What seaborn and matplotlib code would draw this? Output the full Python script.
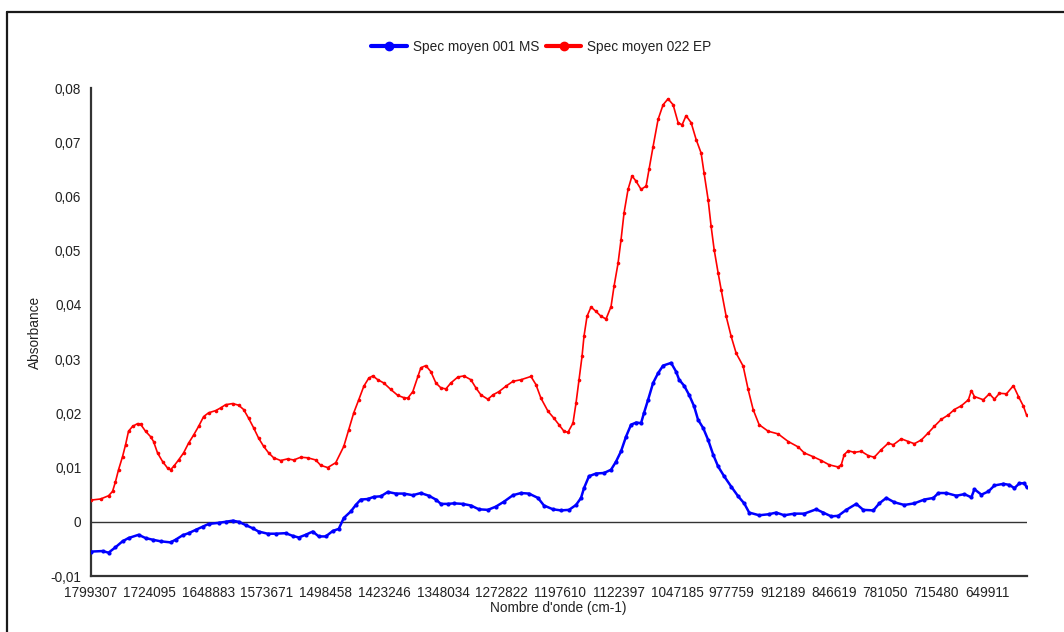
import numpy as np
import pandas as pd
import matplotlib
matplotlib.use("Agg")
import matplotlib.pyplot as plt
import seaborn as sns
from matplotlib.lines import Line2D
from matplotlib.ticker import FixedLocator

# ---------------- data ----------------
series_names = ["Spec moyen 001 MS", "Spec moyen 022 EP"]
series_colors = ["#0000FF", "#FF0000"]

wn_ms = [1799.3, 1784.5, 1776.8, 1767.9, 1758.9, 1751.2, 1738.3, 1729.4, 1720.4, 1710.1,
         1697.3, 1690.8, 1681.9, 1674.2, 1665.2, 1656.2, 1648.5, 1635.7, 1626.7, 1617.7,
         1610.0, 1601.0, 1592.0, 1584.3, 1572.8, 1562.5, 1549.7, 1540.7, 1533.0, 1524.0,
         1515.0, 1507.3, 1498.3, 1489.3, 1481.6, 1475.2, 1466.2, 1459.8, 1453.4, 1444.4,
         1436.7, 1427.7, 1418.7, 1408.5, 1398.2, 1386.7, 1376.4, 1366.1, 1357.1, 1350.7,
         1341.7, 1334.0, 1322.5, 1312.2, 1301.9, 1290.4, 1280.1, 1269.9, 1258.3, 1248.0,
         1237.8, 1226.2, 1218.5, 1207.0, 1196.7, 1186.4, 1177.4, 1171.0, 1167.2, 1160.8,
         1151.8, 1141.5, 1132.5, 1126.1, 1119.7, 1113.3, 1106.9, 1100.4, 1094.0, 1090.2,
         1085.0, 1078.6, 1072.2, 1065.8, 1055.5, 1049.1, 1045.2, 1038.8, 1032.4, 1026.0,
         1020.9, 1014.4, 1008.0, 1001.6, 995.2, 987.5, 978.5, 969.5, 961.8, 955.4,
         942.6, 929.7, 920.7, 910.5, 897.6, 884.8, 869.4, 860.4, 850.2, 841.2,
         830.9, 818.1, 809.1, 796.2, 788.5, 779.6, 769.3, 756.5, 743.6, 730.8,
         719.2, 712.8, 702.6, 689.7, 679.5, 670.5, 666.6, 657.6, 648.6, 640.9,
         629.4, 621.7, 615.3, 608.9, 602.4, 599.8]
abs_ms = [-0.0055, -0.0054, -0.0057, -0.0047, -0.0036, -0.0030, -0.0024, -0.0030, -0.0033, -0.0036,
          -0.0038, -0.0033, -0.0025, -0.0021, -0.0015, -0.0009, -0.0004, -0.0002, 0.0000, 0.0002,
          0.0000, -0.0006, -0.0012, -0.0018, -0.0022, -0.0022, -0.0021, -0.0026, -0.0029, -0.0024,
          -0.0018, -0.0027, -0.0027, -0.0017, -0.0013, 0.0007, 0.0019, 0.0031, 0.0041, 0.0042,
          0.0046, 0.0047, 0.0055, 0.0052, 0.0052, 0.0049, 0.0053, 0.0048, 0.0041, 0.0033,
          0.0033, 0.0034, 0.0033, 0.0030, 0.0023, 0.0022, 0.0028, 0.0037, 0.0049, 0.0053,
          0.0052, 0.0044, 0.0030, 0.0023, 0.0021, 0.0022, 0.0031, 0.0044, 0.0062, 0.0084,
          0.0089, 0.0090, 0.0096, 0.0111, 0.0130, 0.0157, 0.0179, 0.0183, 0.0182, 0.0201,
          0.0225, 0.0256, 0.0274, 0.0288, 0.0293, 0.0277, 0.0262, 0.0251, 0.0234, 0.0213,
          0.0188, 0.0173, 0.0151, 0.0124, 0.0102, 0.0084, 0.0065, 0.0047, 0.0034, 0.0017,
          0.0012, 0.0014, 0.0017, 0.0012, 0.0015, 0.0015, 0.0023, 0.0017, 0.0010, 0.0011,
          0.0022, 0.0033, 0.0022, 0.0021, 0.0034, 0.0044, 0.0036, 0.0031, 0.0034, 0.0041,
          0.0044, 0.0053, 0.0053, 0.0048, 0.0051, 0.0045, 0.0060, 0.0050, 0.0056, 0.0067,
          0.0070, 0.0068, 0.0062, 0.0071, 0.0071, 0.0064]

wn_ep = [1799.3, 1787.1, 1776.8, 1771.7, 1767.9, 1764.0, 1758.9, 1755.0, 1751.2, 1746.0,
         1739.6, 1735.8, 1729.4, 1722.9, 1719.1, 1714.0, 1707.5, 1701.1, 1697.3, 1693.4,
         1687.0, 1680.6, 1674.2, 1667.7, 1661.3, 1654.9, 1648.5, 1639.5, 1633.1, 1626.7,
         1617.7, 1610.0, 1603.6, 1597.2, 1590.7, 1584.3, 1577.9, 1571.5, 1565.1, 1556.1,
         1547.1, 1539.4, 1530.4, 1521.4, 1511.2, 1504.7, 1495.8, 1485.5, 1475.2, 1468.8,
         1462.4, 1456.0, 1449.5, 1443.1, 1438.0, 1431.6, 1423.9, 1414.9, 1405.9, 1398.2,
         1393.1, 1386.7, 1380.2, 1376.4, 1370.0, 1363.6, 1357.1, 1350.7, 1344.3, 1337.9,
         1328.9, 1321.2, 1312.2, 1305.8, 1299.4, 1290.4, 1284.0, 1276.3, 1267.3, 1258.3,
         1248.0, 1235.2, 1228.8, 1222.4, 1213.4, 1205.7, 1199.3, 1192.9, 1187.7, 1181.3,
         1177.4, 1173.6, 1169.7, 1167.2, 1163.3, 1158.2, 1151.8, 1145.4, 1138.9, 1132.5,
         1128.7, 1123.5, 1119.7, 1115.8, 1110.7, 1105.6, 1100.4, 1094.0, 1087.6, 1083.8,
         1078.6, 1072.2, 1065.8, 1059.4, 1052.9, 1046.5, 1041.4, 1036.3, 1029.8, 1023.4,
         1017.0, 1013.2, 1008.0, 1004.2, 1000.3, 995.2, 991.3, 984.9, 978.5, 972.1,
         963.1, 956.7, 950.3, 942.6, 931.0, 918.2, 905.3, 892.5, 884.8, 873.3,
         863.0, 852.7, 841.2, 837.3, 833.5, 828.3, 820.6, 811.7, 802.7, 795.0,
         786.0, 777.0, 770.6, 760.3, 751.3, 743.6, 734.6, 725.7, 718.0, 709.0,
         700.0, 692.3, 683.3, 674.3, 670.5, 666.6, 655.1, 647.4, 640.9, 634.5,
         625.5, 616.6, 610.1, 603.7, 599.8]
abs_ep = [0.0040, 0.0042, 0.0048, 0.0056, 0.0074, 0.0096, 0.0120, 0.0142, 0.0167, 0.0176,
          0.0181, 0.0180, 0.0167, 0.0157, 0.0148, 0.0127, 0.0111, 0.0099, 0.0096, 0.0102,
          0.0114, 0.0127, 0.0145, 0.0160, 0.0176, 0.0194, 0.0201, 0.0205, 0.0210, 0.0216,
          0.0218, 0.0215, 0.0207, 0.0191, 0.0173, 0.0154, 0.0139, 0.0127, 0.0118, 0.0113,
          0.0116, 0.0114, 0.0119, 0.0118, 0.0114, 0.0104, 0.0100, 0.0109, 0.0139, 0.0170,
          0.0201, 0.0225, 0.0250, 0.0265, 0.0269, 0.0262, 0.0256, 0.0244, 0.0233, 0.0229,
          0.0228, 0.0240, 0.0268, 0.0284, 0.0288, 0.0277, 0.0256, 0.0247, 0.0245, 0.0256,
          0.0267, 0.0269, 0.0262, 0.0247, 0.0234, 0.0226, 0.0234, 0.0240, 0.0250, 0.0259,
          0.0262, 0.0268, 0.0253, 0.0228, 0.0204, 0.0191, 0.0179, 0.0167, 0.0165, 0.0182,
          0.0219, 0.0262, 0.0305, 0.0342, 0.0379, 0.0396, 0.0388, 0.0379, 0.0374, 0.0397,
          0.0434, 0.0477, 0.0520, 0.0570, 0.0613, 0.0638, 0.0628, 0.0613, 0.0619, 0.0650,
          0.0692, 0.0742, 0.0769, 0.0780, 0.0769, 0.0736, 0.0732, 0.0749, 0.0736, 0.0705,
          0.0680, 0.0643, 0.0594, 0.0545, 0.0502, 0.0459, 0.0428, 0.0379, 0.0342, 0.0311,
          0.0287, 0.0244, 0.0207, 0.0179, 0.0167, 0.0162, 0.0148, 0.0138, 0.0127, 0.0120,
          0.0113, 0.0105, 0.0101, 0.0105, 0.0124, 0.0131, 0.0128, 0.0130, 0.0122, 0.0119,
          0.0133, 0.0145, 0.0142, 0.0153, 0.0148, 0.0144, 0.0151, 0.0164, 0.0176, 0.0189,
          0.0197, 0.0207, 0.0214, 0.0225, 0.0242, 0.0231, 0.0225, 0.0236, 0.0226, 0.0237,
          0.0236, 0.0251, 0.0231, 0.0213, 0.0197]

x_tick_labels = ["1799307", "1724095", "1648883", "1573671", "1498458", "1423246",
                 "1348034", "1272822", "1197610", "1122397", "1047185", "977759",
                 "912189", "846619", "781050", "715480", "649911"]
x_step = 1.9285          # spectral spacing (cm-1) of the recorded points
x_last = 599.8
y_ticks = [-0.01, 0.0, 0.01, 0.02, 0.03, 0.04, 0.05, 0.06, 0.07, 0.08]
y_tick_labels = ["-0,01", "0", "0,01", "0,02", "0,03", "0,04", "0,05", "0,06", "0,07", "0,08"]

# ---------------- figure ----------------
sns.set_theme(style="white")
plt.rcParams['font.family'] = ['Liberation Sans', 'DejaVu Sans']
TXT = "#222222"
AX = "#333333"
FS = 9.8

fig = plt.figure(figsize=(10.64, 6.32), dpi=100)
W, H = 1064, 632
ax = fig.add_axes([91 / W, (H - 576) / H, (1026.5 - 91) / W, (576 - 88) / H])

df = pd.concat([
    pd.DataFrame({"wn": wn_ms, "absorbance": abs_ms, "serie": series_names[0]}),
    pd.DataFrame({"wn": wn_ep, "absorbance": abs_ep, "serie": series_names[1]}),
], ignore_index=True)

styles = {series_names[0]: dict(lw=1.8, ms=3.0), series_names[1]: dict(lw=1.2, ms=2.6)}
for name, color in zip(series_names, series_colors):
    sub = df[df["serie"] == name]
    sns.lineplot(data=sub, x="wn", y="absorbance", ax=ax, color=color,
                 linewidth=styles[name]["lw"], marker="o",
                 markersize=styles[name]["ms"], markeredgecolor=color,
                 markeredgewidth=0, sort=False, errorbar=None, legend=False,
                 zorder=3)

ax.axhline(0, color=AX, lw=1.0, zorder=2)

x_tick_pos = [int(s) / 1000 for s in x_tick_labels]
ax.set_xlim(x_tick_pos[0], x_last)
ax.set_ylim(y_ticks[0], y_ticks[-1])

ax.xaxis.set_major_locator(FixedLocator(x_tick_pos))
ax.set_xticklabels(x_tick_labels)
ax.xaxis.set_minor_locator(FixedLocator(np.arange(x_tick_pos[0], x_last - 0.5, -x_step)))
ax.set_yticks(y_ticks)
ax.set_yticklabels(y_tick_labels)
ax.yaxis.set_minor_locator(FixedLocator([(a + b) / 2 for a, b in zip(y_ticks[:-1], y_ticks[1:])]))

ax.tick_params(axis="both", which="both", direction="out", colors=AX,
               labelcolor=TXT, labelsize=FS)
ax.tick_params(axis="x", which="major", length=2.5, width=0.7, pad=5)
ax.tick_params(axis="x", which="minor", length=2.5, width=0.6)
ax.tick_params(axis="y", which="major", length=3, width=1.0, pad=4)
ax.tick_params(axis="y", which="minor", length=2, width=1.0)

for s in ["top", "right"]:
    ax.spines[s].set_visible(False)
for s in ["left", "bottom"]:
    ax.spines[s].set_color(AX)
    ax.spines[s].set_linewidth(1.6)

ax.set_xlabel("Nombre d'onde (cm-1)", fontsize=FS, color=TXT, labelpad=0.5)
ax.set_ylabel("Absorbance", fontsize=FS, color=TXT, labelpad=6)
ax.grid(False)

handles = [Line2D([0], [0], color=c, lw=3, marker="o", markersize=6,
                  markeredgecolor=c) for c in series_colors]
fig.legend(handles, series_names, loc="center", bbox_to_anchor=(541.5 / W, 1 - 47 / H),
           ncol=2, frameon=False, fontsize=FS, handlelength=2.6, handletextpad=0.45,
           columnspacing=0.5, labelcolor=TXT)

# outer frame (left and top edges visible in the reference)
fig.add_artist(Line2D([7 / W, 7 / W], [0, 1 - 12 / H], transform=fig.transFigure,
                      color="#1a1a1a", lw=1.6))
fig.add_artist(Line2D([7 / W, 1], [1 - 12 / H, 1 - 12 / H], transform=fig.transFigure,
                      color="#1a1a1a", lw=1.6))

fig.savefig("out.png", dpi=100, facecolor="white")
